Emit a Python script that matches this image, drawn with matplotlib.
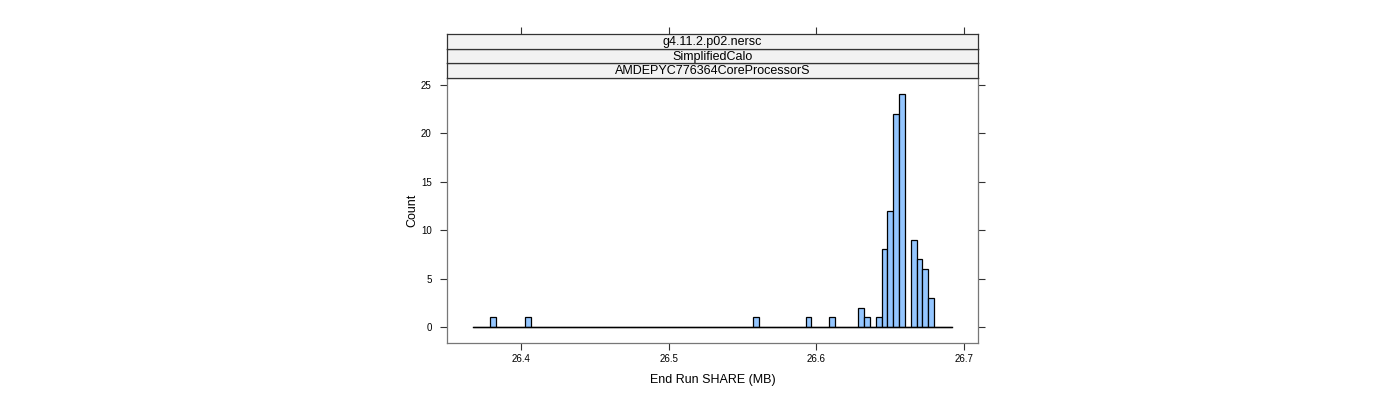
import numpy as np
import matplotlib
matplotlib.use('Agg')
import matplotlib.pyplot as plt

# histogram bins (data units) and counts
bin_lo = 26.3675
bin_hi = 26.6916
n_bins = 82
filled_bins = [3, 9, 48, 57, 61, 66, 67, 69, 70, 71, 72, 73, 75, 76, 77, 78]
filled_counts = [1, 1, 1, 1, 1, 2, 1, 1, 8, 12, 22, 24, 9, 7, 6, 3]

strip_labels = ['g4.11.2.p02.nersc', 'SimplifiedCalo', 'AMDEPYC776364CoreProcessorS']
x_ticks = [26.4, 26.5, 26.6, 26.7]
y_ticks = [0, 5, 10, 15, 20, 25]
x_label = 'End Run SHARE (MB)'
y_label = 'Count'

plt.rcParams['font.family'] = ['Liberation Sans', 'DejaVu Sans']

edges = np.linspace(bin_lo, bin_hi, n_bins + 1)
counts = np.zeros(n_bins)
for b, c in zip(filled_bins, filled_counts):
    counts[b] = c

fig = plt.figure(figsize=(14, 4), dpi=100)
ax = fig.add_axes([447 / 1400, 1 - 343 / 400, 531 / 1400, 265 / 400])

ax.hist(edges[:-1], bins=edges, weights=counts, color='#94C6FF',
        edgecolor='black', linewidth=0.9)
# empty bins are drawn as a flat line in lattice
ax.plot([bin_lo, bin_hi], [0, 0], color='black', linewidth=1.0)

ax.set_xlim(26.35, 26.7095)
ax.set_ylim(-1.65, 25.7)
ax.set_xticks(x_ticks)
ax.set_xticklabels([str(t) for t in x_ticks], fontsize=7)
ax.set_yticks(y_ticks)
ax.set_yticklabels([str(t) for t in y_ticks], fontsize=7)
ax.tick_params(axis='both', direction='out', length=5, width=0.8,
               colors='#333333', labelcolor='black')
ax.tick_params(axis='y', right=True, pad=6)
ax.tick_params(axis='x', pad=3)
for s in ax.spines.values():
    s.set_color('#777777')
    s.set_linewidth(0.9)

ax.set_xlabel(x_label, fontsize=9, labelpad=7)
ax.set_ylabel(y_label, fontsize=9, labelpad=2)

# strips on top of the panel
strip_h = 14.7 / 400
for i, lab in enumerate(reversed(strip_labels)):
    y0 = 1 - 78 / 400 + i * strip_h
    sax = fig.add_axes([447 / 1400, y0, 531 / 1400, strip_h])
    sax.set_xlim(0, 1)
    sax.set_ylim(0, 1)
    sax.set_facecolor('#F2F2F2')
    sax.set_xticks([])
    sax.set_yticks([])
    for s in sax.spines.values():
        s.set_color('#333333')
        s.set_linewidth(0.9)
    sax.text(0.5, 0.45, lab, ha='center', va='center', fontsize=9)

# ticks on the top of the strips
tax = fig.add_axes([447 / 1400, 1 - 34 / 400, 531 / 1400, 0.0001])
tax.set_xlim(ax.get_xlim())
tax.set_yticks([])
tax.set_xticks(x_ticks)
tax.tick_params(axis='x', bottom=False, labelbottom=False, top=True,
                labeltop=False, direction='out', length=5, width=0.8,
                colors='#333333')
for s in tax.spines.values():
    s.set_visible(False)

fig.savefig('out.png', dpi=100)
